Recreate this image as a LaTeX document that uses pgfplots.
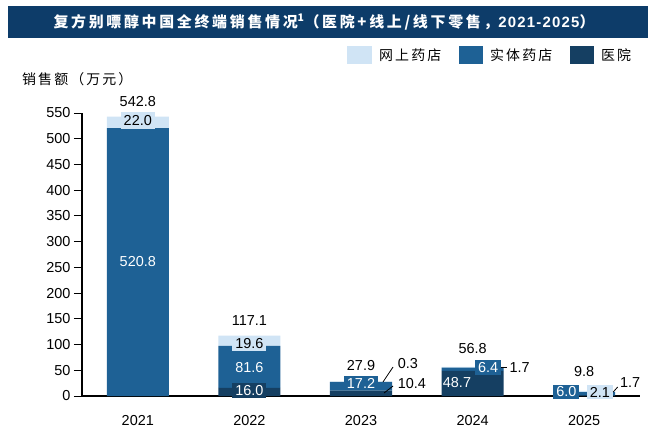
\documentclass[border=0pt]{standalone}
\usepackage{fontspec}
\setmainfont{Liberation Sans}
\newfontfamily\cjk{Noto Sans CJK SC}
\newfontfamily\cjkls[LetterSpace=15]{Noto Sans CJK SC}
\newfontfamily\cjkt[LetterSpace=18]{Noto Sans CJK SC}
\usepackage{pgfplots}
\pgfplotsset{compat=1.18}
\definecolor{cLight}{HTML}{D0E4F5}
\definecolor{cMid}{HTML}{1E6195}
\definecolor{cDark}{HTML}{153F62}
\definecolor{cTitle}{HTML}{0D3C69}
\tikzset{
  lbl/.style={font=\fontsize{14.5}{14.5}\selectfont, inner sep=1bp},
  bx/.style={font=\fontsize{14.5}{14.5}\selectfont, inner xsep=3bp, inner ysep=3.5bp},
}
\begin{document}
\begin{tikzpicture}[x=1bp,y=1bp]
\useasboundingbox (0,0) rectangle (653,429);
\fill[cTitle] (8,391) rectangle (648,423);
\node[text=white, font=\cjkt\bfseries\fontsize{15}{15}\selectfont] at (324,407) {复方别嘌醇中国全终端销售情况\textsuperscript{1}（医院+线上/线下零售，{\rmfamily\bfseries\addfontfeature{LetterSpace=8} 2021-2025}）};
% legend
\fill[cLight] (347,365) rectangle (372,383);
\node[anchor=west, inner sep=0, font=\cjkls\fontsize{14}{14}\selectfont] at (379,374) {网上药店};
\fill[cMid] (459,365) rectangle (483,383);
\node[anchor=west, inner sep=0, font=\cjkls\fontsize{14}{14}\selectfont] at (490,374) {实体药店};
\fill[cDark] (570,365) rectangle (594,383);
\node[anchor=west, inner sep=0, font=\cjkls\fontsize{14}{14}\selectfont] at (601,374) {医院};
% y label
\node[anchor=west, inner sep=0, font=\cjkls\fontsize{14}{14}\selectfont] at (22,350) {销售额（万元）};
\begin{axis}[
  at={(82bp,33bp)}, anchor=south west, scale only axis,
  width=558bp, height=283bp,
  xmin=-0.5, xmax=4.5, ymin=0, ymax=550,
  ybar stacked, bar width=0.556,
  axis x line*=bottom, axis y line*=left,
  axis line style={-, black, line width=1.2bp},
  xtick={0,1,2,3,4}, xticklabels={2021,2022,2023,2024,2025},
  x tick style={draw=none},
  ytick={0,50,...,550},
  y tick style={black, line width=1bp},
  tick align=outside, major tick length=8bp,
  /pgf/number format/assume math mode=true,
  ticklabel style={font=\fontsize{14.5}{14.5}\selectfont},
  xticklabel style={yshift=-8bp},
  clip=false,
  after end axis/.code={
    \node[lbl] at (axis cs:0,571.5) {542.8};
    \node[lbl] at (axis cs:1,146) {117.1};
    \node[lbl] at (axis cs:2,59) {27.9};
    \node[lbl] at (axis cs:3,93) {56.8};
    \node[lbl] at (axis cs:4,47) {9.8};
    \node[bx, fill=cLight, text=black] at (axis cs:0,535) {22.0};
    \node[lbl, text=white] at (axis cs:0,261) {520.8};
    \node[bx, fill=cLight, text=black, inner ysep=2.5bp] at (axis cs:1,102) {19.6};
    \node[lbl, text=white] at (axis cs:1,56) {81.6};
    \node[bx, fill=cDark, text=white, inner ysep=2bp] at (axis cs:1,10.7) {16.0};
    \node[bx, fill=cMid, text=white, inner ysep=2bp] at (axis cs:2,24.6) {17.2};
    \draw[black, line width=0.8bp] (axis cs:2.197,27.2) -- (axis cs:2.287,56.4);
    \node[lbl, anchor=west] at (axis cs:2.32,64) {0.3};
    \draw[black, line width=0.8bp] (axis cs:2.206,5.8) -- (axis cs:2.287,19.4);
    \node[lbl, anchor=west] at (axis cs:2.32,25) {10.4};
    \node[lbl, text=white] at (axis cs:2.86,27) {48.7};
    \node[bx, fill=cMid, text=white, inner ysep=2.5bp] at (axis cs:3.14,56) {6.4};
    \draw[black, line width=0.8bp] (axis cs:3.254,56.4) -- (axis cs:3.308,56.4);
    \node[lbl, anchor=west] at (axis cs:3.32,56) {1.7};
    \node[bx, fill=cMid, text=white, inner ysep=2bp] at (axis cs:3.84,7.8) {6.0};
    \node[bx, fill=cLight, text=black, inner ysep=2bp] at (axis cs:4.14,7.8) {2.1};
    \draw[black, line width=0.8bp] (axis cs:4.26,7.8) -- (axis cs:4.30,17.5);
    \node[lbl, anchor=west] at (axis cs:4.31,27) {1.7};
  },
]
\addplot+[fill=cDark, draw=none] coordinates {(0,0) (1,16.0) (2,10.4) (3,48.7) (4,1.7)};
\addplot+[fill=cMid, draw=none] coordinates {(0,520.8) (1,81.6) (2,17.2) (3,6.4) (4,6.0)};
\addplot+[fill=cLight, draw=none] coordinates {(0,22.0) (1,19.6) (2,0.3) (3,1.7) (4,2.1)};
\end{axis}
\end{tikzpicture}
\end{document}
